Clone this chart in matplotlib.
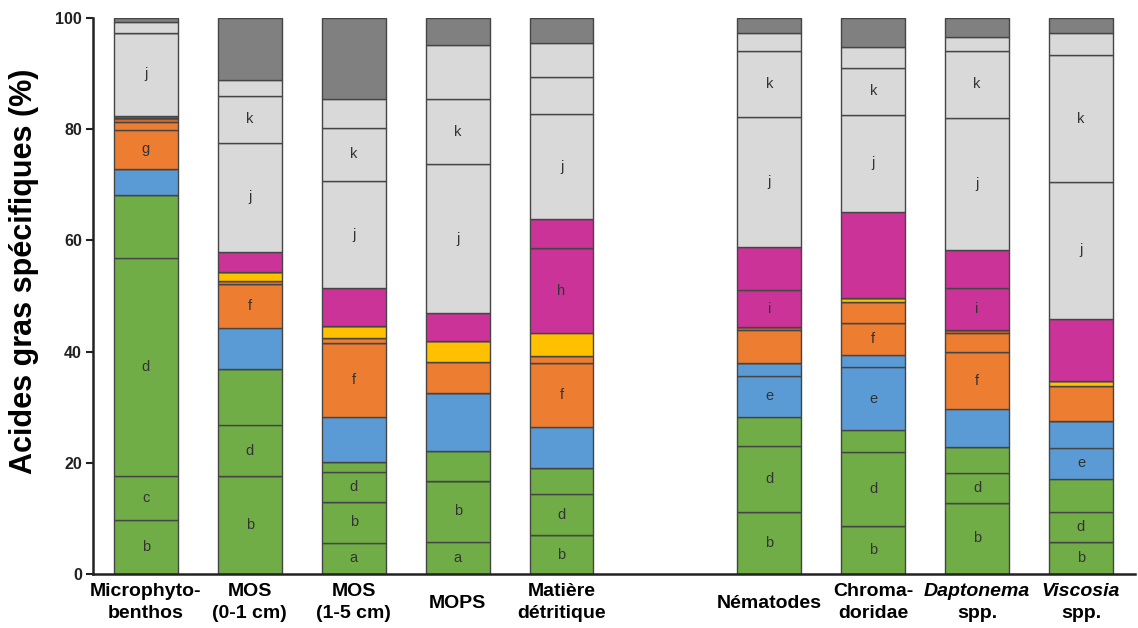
import matplotlib
matplotlib.use('Agg')
import matplotlib.pyplot as plt
import numpy as np

plt.rcParams['font.family'] = ['Liberation Sans', 'DejaVu Sans']

# bar order: Microphytobenthos, MOS 0-1, MOS 1-5, MOPS, Matiere detr., Nematodes, Chromadoridae, Daptonema, Viscosia
line1 = ['Microphyto-', 'MOS', 'MOS', 'MOPS', 'Matière', 'Nématodes', 'Chroma-', 'Daptonema', 'Viscosia']
line2 = ['benthos', '(0-1 cm)', '(1-5 cm)', '', 'détritique', '', 'doridae', 'spp.', 'spp.']
italic = [False, False, False, False, False, False, False, True, True]
xpos = [0, 1, 2, 3, 4, 6, 7, 8, 9]

# % of each fatty acid group, stacked bottom -> top
a = [0, 0, 5.6, 5.8, 0, 0, 0, 0, 0]
b = [9.7, 17.6, 7.4, 11.0, 7.0, 11.2, 8.6, 12.8, 5.8]
c = [7.9, 0, 0, 0, 0, 0, 0, 0, 0]
d = [39.2, 9.2, 5.3, 0, 7.4, 11.8, 13.3, 5.3, 5.4]
green_other = [11.4, 10.1, 1.8, 5.3, 4.7, 5.3, 4.0, 4.8, 5.9]
e = [0, 0, 0, 0, 0, 7.3, 11.3, 0, 5.6]
blue_other = [4.6, 7.3, 8.2, 10.5, 7.3, 2.4, 2.2, 6.7, 4.8]
f = [0, 8.0, 13.3, 0, 11.5, 0, 5.7, 10.3, 0]
g = [7.1, 0, 0, 0, 0, 0, 0, 0, 0]
orange_other = [1.4, 0.5, 0.8, 5.5, 1.3, 5.8, 3.9, 3.4, 6.3]
orange_thin = [0.7, 0, 0, 0, 0, 0.6, 0, 0.6, 0]
yellow = [0, 1.6, 2.2, 3.8, 4.1, 0, 0.6, 0, 0.9]
h = [0, 0, 0, 0, 15.3, 0, 0, 0, 0]
i = [0, 0, 0, 0, 0, 6.7, 0, 7.5, 0]
magenta_other = [0.4, 3.6, 6.8, 5.0, 5.2, 7.7, 15.5, 6.9, 11.2]
j = [14.9, 19.7, 19.3, 26.8, 18.9, 23.4, 17.5, 23.7, 24.6]
k = [0, 8.3, 9.6, 11.7, 6.7, 11.9, 8.4, 12.1, 22.8]
gray_other = [2.0, 2.9, 5.1, 9.7, 6.1, 3.2, 3.8, 2.5, 4.0]
others = [0.7, 11.2, 14.6, 4.9, 4.5, 2.7, 5.2, 3.4, 2.7]

# letters written inside the bars
shown = ['bcdgj', 'bdfjk', 'abdfjk', 'abjk', 'bdfhj', 'bdeijk', 'bdefjk', 'bdfijk', 'bdejk']

green = '#70AD47'
blue = '#5B9BD5'
orange = '#ED7D31'
stack = [
    ('a', a, green), ('b', b, green), ('c', c, green), ('d', d, green), ('', green_other, green),
    ('e', e, blue), ('', blue_other, blue),
    ('f', f, orange), ('g', g, orange), ('', orange_other, orange), ('', orange_thin, '#D0692A'),
    ('', yellow, '#FFC000'),
    ('h', h, '#CC3399'), ('i', i, '#CC3399'), ('', magenta_other, '#CC3399'),
    ('j', j, '#D9D9D9'), ('k', k, '#D9D9D9'), ('', gray_other, '#D9D9D9'),
    ('', others, '#808080'),
]

fig = plt.figure(figsize=(11.38, 6.28), dpi=100)
ax = fig.add_axes([93/1138, 54/628, 1042/1138, 556/628])

bottom = np.zeros(len(xpos))
for name, vals, col in stack:
    vals = np.array(vals, dtype=float)
    ax.bar(xpos, vals, 0.615, bottom=bottom, color=col, edgecolor='#454545', linewidth=1.0)
    for n in range(len(xpos)):
        if name and name in shown[n] and vals[n] > 0:
            ax.text(xpos[n], bottom[n] + vals[n]/2, name, ha='center', va='center',
                    fontsize=10.5, color='#333333')
    bottom += vals

ax.set_xlim(-0.51, 9.52)
ax.set_ylim(0, 100)
ax.set_yticks([0, 20, 40, 60, 80, 100])
ax.tick_params(axis='y', direction='out', length=5, width=1.5, labelsize=11.5, pad=3, colors='#222222')
for lab in ax.get_yticklabels():
    lab.set_fontweight('bold')
ax.set_xticks([])
for s in ['top', 'right']:
    ax.spines[s].set_visible(False)
for s in ['left', 'bottom']:
    ax.spines[s].set_linewidth(1.8)
    ax.spines[s].set_color('#222222')

ax.set_ylabel('Acides gras spécifiques (%)', fontsize=22, fontweight='bold')
ax.yaxis.set_label_coords(-0.052, 0.545)

for n in range(len(xpos)):
    style = 'italic' if italic[n] else 'normal'
    if line2[n]:
        ax.annotate(line1[n], (xpos[n], 0), xycoords=('data', 'axes fraction'),
                    xytext=(0, -12.5), textcoords='offset points', ha='center', va='center',
                    fontsize=14, fontweight='bold', fontstyle=style, annotation_clip=False)
        ax.annotate(line2[n], (xpos[n], 0), xycoords=('data', 'axes fraction'),
                    xytext=(0, -28.5), textcoords='offset points', ha='center', va='center',
                    fontsize=14, fontweight='bold', annotation_clip=False)
    else:
        ax.annotate(line1[n], (xpos[n], 0), xycoords=('data', 'axes fraction'),
                    xytext=(0, -21), textcoords='offset points', ha='center', va='center',
                    fontsize=14, fontweight='bold', fontstyle=style, annotation_clip=False)

fig.savefig('out.png', dpi=100)
